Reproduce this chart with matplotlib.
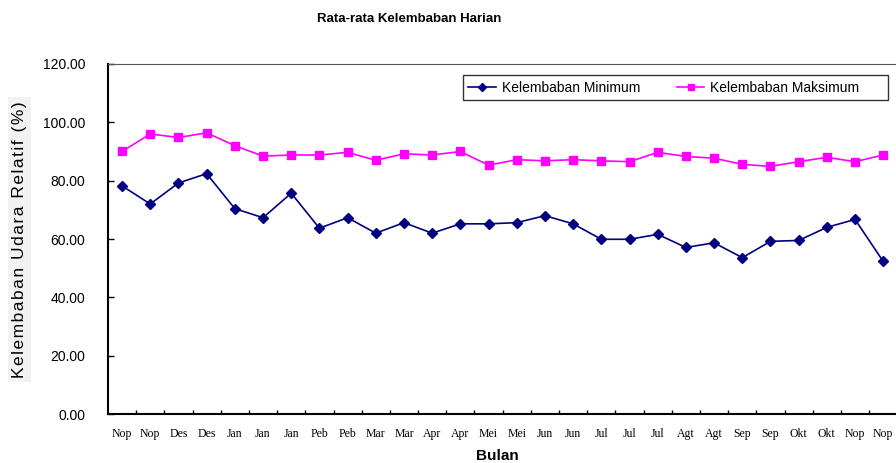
import numpy as np
import matplotlib.pyplot as plt
from matplotlib.ticker import FixedLocator, FuncFormatter

bulan = ["Nop", "Nop", "Des", "Des", "Jan", "Jan", "Jan", "Peb", "Peb", "Mar",
         "Mar", "Apr", "Apr", "Mei", "Mei", "Jun", "Jun", "Jul", "Jul", "Jul",
         "Agt", "Agt", "Sep", "Sep", "Okt", "Okt", "Nop", "Nop"]
kel_min = [78.2, 72.0, 79.2, 82.4, 70.4, 67.3, 75.7, 63.7, 67.3, 62.0,
           65.6, 62.0, 65.2, 65.2, 65.6, 68.0, 65.2, 59.9, 59.9, 61.6,
           57.1, 58.7, 53.6, 59.2, 59.5, 64.0, 66.7, 52.3]
kel_max = [90.0, 96.0, 94.8, 96.4, 92.0, 88.4, 88.8, 88.8, 89.7, 87.0,
           89.2, 88.8, 90.0, 85.3, 87.2, 86.8, 87.2, 86.8, 86.5, 89.7,
           88.3, 87.7, 85.6, 84.9, 86.5, 88.0, 86.5, 88.8]


def main():
    fig = plt.figure(figsize=(8.96, 4.63), dpi=100)
    ax = fig.add_axes([0.1205, 0.1058, 0.881, 0.756])
    x = np.arange(len(bulan))

    ax.plot(x, kel_min, color="#000080", marker="D", markersize=5.5, lw=1.2,
            label="Kelembaban Minimum")
    ax.plot(x, kel_max, color="#ff00ff", marker="s", markersize=6, lw=1.2,
            label="Kelembaban Maksimum      ")

    ax.set_xlim(-0.5, len(bulan) - 0.5)
    ax.set_ylim(0, 120)
    ax.set_yticks(np.arange(0, 121, 20))
    ax.yaxis.set_major_formatter(FuncFormatter(lambda v, p: "%.2f" % v))
    ax.tick_params(axis="y", direction="in", length=4, width=1, labelsize=10, pad=16.5)
    for t in ax.get_yticklabels():
        t.set_fontfamily("Liberation Sans")

    ax.set_xticks(x)
    ax.set_xticklabels(bulan, fontfamily="Liberation Serif", fontsize=8.5)
    ax.tick_params(axis="x", which="major", length=0, pad=10)
    ax.xaxis.set_minor_locator(FixedLocator(np.arange(0.5, len(bulan) - 0.5, 1)))
    ax.tick_params(axis="x", which="minor", direction="in", length=3, width=1)

    ax.spines["left"].set_linewidth(1.5)
    ax.spines["bottom"].set_linewidth(1.5)
    ax.spines["top"].set_color("#555555")
    ax.spines["right"].set_color("#555555")

    leg = ax.legend(loc="upper right", bbox_to_anchor=(0.9886, 0.968), ncol=2,
                    frameon=True, fancybox=False, edgecolor="black",
                    prop={"family": "Liberation Sans", "size": 10},
                    handlelength=2.0, handletextpad=0.43, columnspacing=2.6,
                    borderpad=0.4, borderaxespad=0, markerscale=0.8)
    leg.get_frame().set_linewidth(1.0)

    fig.text(0.457, 0.959, "Rata-rata Kelembaban Harian", ha="center", va="center",
             fontfamily="Liberation Sans", fontweight="bold", fontsize=9.5)
    fig.text(0.555, 0.016, "Bulan", ha="center", va="center",
             fontfamily="Liberation Sans", fontweight="bold", fontsize=11)
    label = "\u200a".join("Kelembaban Udara Relatif (%)")
    fig.text(0.022, 0.482, label, rotation=90, ha="center", va="center",
             fontfamily="Liberation Sans", fontsize=12.5,
             bbox=dict(facecolor="#f2f2f2", edgecolor="none", pad=3))

    plt.savefig("out.png", dpi=100)


if __name__ == "__main__":
    main()
